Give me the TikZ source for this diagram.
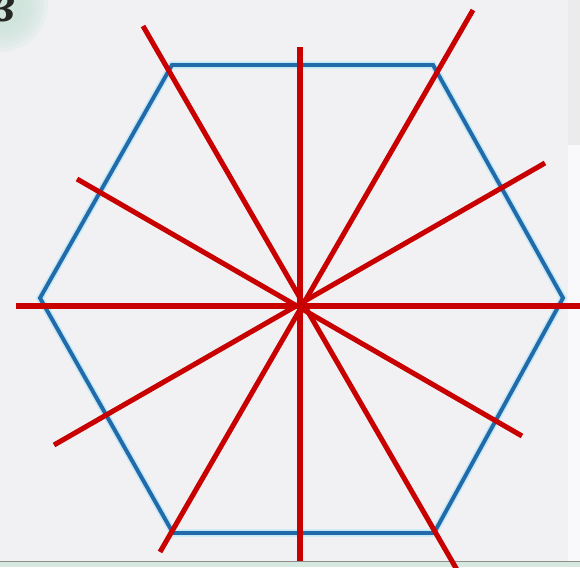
\documentclass[tikz,border=0pt]{standalone}
\usepackage{fontspec}
\setmainfont{Liberation Serif}
\usepackage{tikz}
\usepackage{xcolor}

\definecolor{paper}{HTML}{F1F1F4}
\definecolor{mint}{HTML}{CBE4D9}
\definecolor{hexblue}{HTML}{226BAA}
\definecolor{hexglow}{HTML}{C4E8F6}
\definecolor{axisred}{HTML}{C80000}

\tikzset{
  hexline/.style={hexblue, line width=2.8pt, line join=miter},
  hexhalo/.style={hexglow, line width=5pt, line join=miter},
  axis/.style={axisred, line width=3.6pt},
}

\begin{document}
\begin{tikzpicture}[x={(0.025cm,0)}, y={(0,-0.025cm)}]
  \useasboundingbox (0,0) rectangle (580,567);
  \clip (0,0) rectangle (580,567);
  \fill[paper] (0,0) rectangle (580,567);
  \fill[white!60!paper] (568,145) rectangle (580,561);
  \fill[black!8] (568,0) rectangle (580,145);
  \foreach \r in {48,44,...,24}{ \fill[mint, opacity=0.22] (0,4) circle (\r); }
  \node[font=\bfseries\itshape\fontsize{38}{38}\selectfont, text=black!85] (lab) at (3,9) {в};
  \fill[mint!80] (0,562) rectangle (580,567);
  \draw[black!45, line width=1pt] (0,561.5) -- (580,561.5);

  % hexagon
  \coordinate (L) at (40,298);
  \coordinate (TL) at (172,65);
  \coordinate (TR) at (433,65);
  \coordinate (R) at (563,298);
  \coordinate (BR) at (434,533);
  \coordinate (BL) at (173,533);
  \draw[hexhalo] (L) -- (TL) -- (TR) -- (R) -- (BR) -- (BL) -- cycle;
  \draw[hexline] (L) -- (TL) -- (TR) -- (R) -- (BR) -- (BL) -- cycle;

  % axes of symmetry
  \coordinate (v1) at (300,47);   \coordinate (v2) at (300,561);
  \coordinate (h1) at (16,306);   \coordinate (h2) at (580,306);
  \coordinate (d1) at (143,26);   \coordinate (d2) at (460,575);
  \coordinate (e1) at (473,10);   \coordinate (e2) at (160,552);
  \coordinate (m1) at (77,179);   \coordinate (m2) at (522,436);
  \coordinate (n1) at (54,445);   \coordinate (n2) at (545,163);
  \foreach \a/\b in {v1/v2,h1/h2,d1/d2,e1/e2,m1/m2,n1/n2}{
    \draw[axis] (\a) -- (\b);
  }
\end{tikzpicture}
\end{document}
